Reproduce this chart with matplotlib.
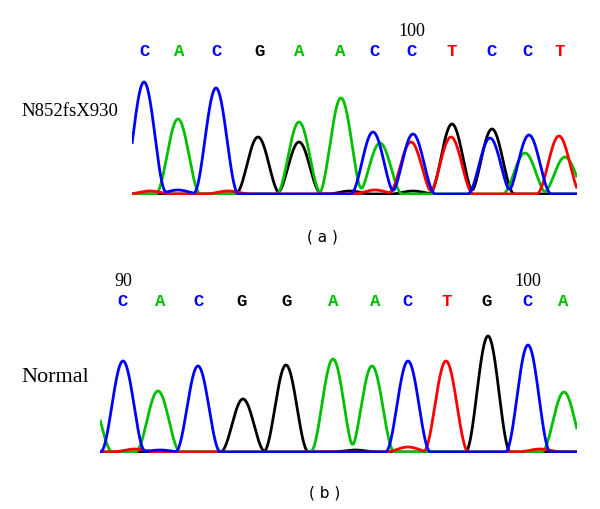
import numpy as np
import matplotlib.pyplot as plt

# base calls shown above each trace
calls_a = ["C", "A", "C", "G", "A", "A", "C", "C", "T", "C", "C", "T"]
call_x_a = [145, 179, 217, 260, 299, 340, 375, 412, 452, 492, 528, 560]
calls_b = ["C", "A", "C", "G", "G", "A", "A", "C", "T", "G", "C", "A"]
call_x_b = [123, 160, 199, 242, 287, 333, 375, 408, 447, 487, 528, 563]

# peak positions / heights per dye channel, panel (a) N852fsX930
a_A_pos = [178, 299, 341, 380, 525, 565]
a_A_h = [75, 72, 96, 51, 41, 37]
a_C_pos = [144, 178, 216, 373, 413, 490, 529]
a_C_h = [112, 4, 106, 62, 60, 56, 59]
a_G_pos = [258, 299, 350, 413, 452, 492]
a_G_h = [57, 52, 3, 3, 70, 65]
a_T_pos = [150, 228, 375, 411, 451, 559]
a_T_h = [3, 3, 4, 52, 57, 58]

# panel (b) normal
b_A_pos = [90, 158, 333, 372, 564]
b_A_h = [55, 61, 93, 86, 60]
b_C_pos = [123, 160, 198, 408, 528]
b_C_h = [91, 2, 86, 91, 107]
b_G_pos = [243, 286, 355, 488]
b_G_h = [53, 87, 2, 116]
b_T_pos = [135, 408, 446, 540]
b_T_h = [3, 5, 91, 3]

colors = {"A": "#00c000", "C": "#0000ff", "G": "#000000", "T": "#ff0000"}


def trace(x, pos, h, w=22.5):
    # raised-cosine peak shape
    y = np.zeros_like(x)
    for p, a in zip(pos, h):
        d = np.abs(x - p)
        y += np.where(d < w, a * np.cos(np.pi * d / (2 * w)) ** 2, 0.0)
    return y


fig = plt.figure(figsize=(6, 5.1), dpi=100)
W, H = 600, 510


def px_axes(left, right, top, bottom):
    return fig.add_axes([left / W, 1 - bottom / H, (right - left) / W, (bottom - top) / H])


def panel(ax, x0, x1, chans, calls, call_x, y_calls):
    x = np.linspace(x0, x1, 1000)
    ax.axhline(0, color="0.3", lw=1, zorder=0)
    for base in ["G", "A", "T", "C"]:
        pos, h = chans[base]
        ax.plot(x, trace(x, pos, h), color=colors[base], lw=2, solid_capstyle="butt")
    for b, cx in zip(calls, call_x):
        ax.text(cx, y_calls, b, color=colors[b], family="Liberation Mono", fontsize=12.5,
                fontweight="bold", ha="center", va="center", clip_on=False)
    ax.set_xlim(x0, x1)
    ax.set_ylim(-1, 125)
    ax.axis("off")
    return ax


ax_a = px_axes(132, 577, 70, 196)
panel(ax_a, 132, 577,
      {"A": (a_A_pos, a_A_h), "C": (a_C_pos, a_C_h), "G": (a_G_pos, a_G_h), "T": (a_T_pos, a_T_h)},
      calls_a, call_x_a, 143)
ax_a.text(412, 163, "100", family="Liberation Serif", fontsize=13, ha="center", va="center", clip_on=False)

ax_b = px_axes(100, 577, 328, 454)
panel(ax_b, 100, 577,
      {"A": (b_A_pos, b_A_h), "C": (b_C_pos, b_C_h), "G": (b_G_pos, b_G_h), "T": (b_T_pos, b_T_h)},
      calls_b, call_x_b, 151)
ax_b.text(123, 171, "90", family="Liberation Serif", fontsize=13, ha="center", va="center", clip_on=False)
ax_b.text(528, 171, "100", family="Liberation Serif", fontsize=13, ha="center", va="center", clip_on=False)

fig.text(21 / W, 1 - 112 / H, "N852fsX930", family="Liberation Serif", fontsize=13.5, va="center")
fig.text(21 / W, 1 - 377 / H, "Normal", family="Liberation Serif", fontsize=16, va="center")
fig.text(322 / W, 1 - 237 / H, "( a )", family="DejaVu Sans", fontsize=11, ha="center", va="center")
fig.text(325 / W, 1 - 493 / H, "( b )", family="DejaVu Sans", fontsize=11, ha="center", va="center")

fig.savefig("out.png", dpi=100)
